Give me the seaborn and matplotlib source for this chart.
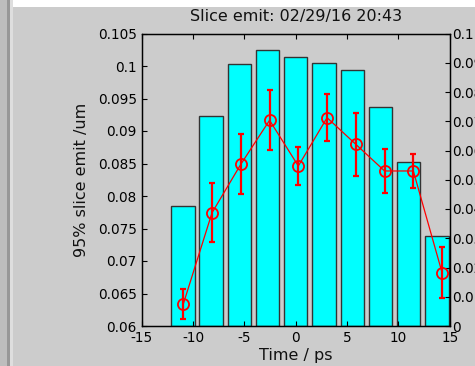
import matplotlib
matplotlib.use("Agg")
import matplotlib.pyplot as plt
from matplotlib.patches import Rectangle
from matplotlib.ticker import FuncFormatter
import seaborn as sns

# Slice time bins and the beam profile shown as bars (right axis)
bar_times = [-11.0, -8.25, -5.5, -2.75, 0.0, 2.75, 5.5, 8.25, 11.0, 13.75]
bar_values = [0.0409, 0.0719, 0.0895, 0.0943, 0.0919, 0.0898, 0.0875, 0.0750, 0.0560, 0.0308]

# Slice emittance with error bars (left axis)
emit_times = [-10.95, -8.15, -5.35, -2.55, 0.25, 3.05, 5.85, 8.65, 11.45, 14.25]
emit_values = [0.06338, 0.07743, 0.08488, 0.09165, 0.08462, 0.09205, 0.08795, 0.08385, 0.08385, 0.0682]
emit_errors = [0.00225, 0.0045, 0.0046, 0.0046, 0.0029, 0.0036, 0.0048, 0.0034, 0.0026, 0.0039]

x_ticks = [-15, -10, -5, 0, 5, 10, 15]
left_ticks = [0.06, 0.065, 0.07, 0.075, 0.08, 0.085, 0.09, 0.095, 0.1, 0.105]
right_ticks = [0.0, 0.01, 0.02, 0.03, 0.04, 0.05, 0.06, 0.07, 0.08, 0.09, 0.1]

title_text = "Slice emit: 02/29/16 20:43"
x_label = "Time / ps"
y_label = "95% slice emit /um"

plt.rcParams["font.family"] = ["DejaVu Sans"]
plt.rcParams["axes.unicode_minus"] = False

W, H, DPI = 475, 366, 100
fig = plt.figure(figsize=(W / DPI, H / DPI), dpi=DPI)
fig.patch.set_facecolor("#cccccc")

# window frame pieces: white strip on top, shaded stripes on the left
def px_rect(x0, y0, w, h, color):
    fig.patches.append(Rectangle((x0 / W, 1 - (y0 + h) / H), w / W, h / H,
                                 transform=fig.transFigure, facecolor=color,
                                 edgecolor="none", zorder=0))

px_rect(13, 0, W - 13, 7, "white")
px_rect(0, 0, 7, H, "#bdbdbd")
px_rect(7, 0, 3, H, "#979797")
px_rect(10, 0, 3, H, "#dedede")

left, right, top, bottom = 141.7, 449.8, 33.5, 326.0
ax = fig.add_axes([left / W, 1 - bottom / H, (right - left) / W, (bottom - top) / H])
ax2 = ax.twinx()

# bars on the right-hand axis, drawn underneath the emittance curve
sns.barplot(x=bar_times, y=bar_values, native_scale=True, ax=ax2,
            color="#00ffff", saturation=1, edgecolor="#333333", linewidth=1.0,
            width=0.83, errorbar=None)
ax.set_zorder(ax2.get_zorder() + 1)
ax.patch.set_visible(False)
ax2.patch.set_facecolor("white")

ax.errorbar(emit_times, emit_values, yerr=emit_errors, fmt="none",
            ecolor="red", elinewidth=1.6, capsize=2.3, capthick=1.6, zorder=3)
sns.lineplot(x=emit_times, y=emit_values, ax=ax, color="red", linewidth=0.9,
             marker="o", markersize=8, markerfacecolor="none",
             markeredgecolor="red", markeredgewidth=1.3, zorder=4)

fmt = FuncFormatter(lambda v, p: "%g" % round(v, 4))

ax.set_xlim(-15, 15)
ax.set_ylim(0.06, 0.105)
ax.set_xticks(x_ticks)
ax.set_yticks(left_ticks)
ax.yaxis.set_major_formatter(fmt)
ax.tick_params(axis="x", direction="in", top=True, length=3.5, width=0.8,
               labelsize=9.8, pad=3.5, colors="black")
ax.tick_params(axis="y", direction="in", right=False, length=3.5, width=0.8,
               labelsize=9.8, pad=3.5, colors="black")

ax2.set_xlim(-15, 15)
ax2.set_ylim(0, 0.1)
ax2.set_yticks(right_ticks)
ax2.yaxis.set_major_formatter(fmt)
ax2.tick_params(axis="y", direction="in", length=3.5, width=0.8,
                labelsize=9.8, pad=2.0, colors="black")
ax2.tick_params(axis="x", bottom=False, labelbottom=False)
ax2.set_xlabel("")
ax2.set_ylabel("")

for a in (ax, ax2):
    for s in a.spines.values():
        s.set_color("black")
        s.set_linewidth(0.9)

ax.set_title(title_text, fontsize=11.5, pad=9, color="#111111")
ax.set_xlabel(x_label, fontsize=11.5, labelpad=2, color="#111111")
ax.set_ylabel(y_label, fontsize=11.5, labelpad=6, color="#111111")

fig.savefig("out.png", dpi=DPI, facecolor=fig.get_facecolor())
